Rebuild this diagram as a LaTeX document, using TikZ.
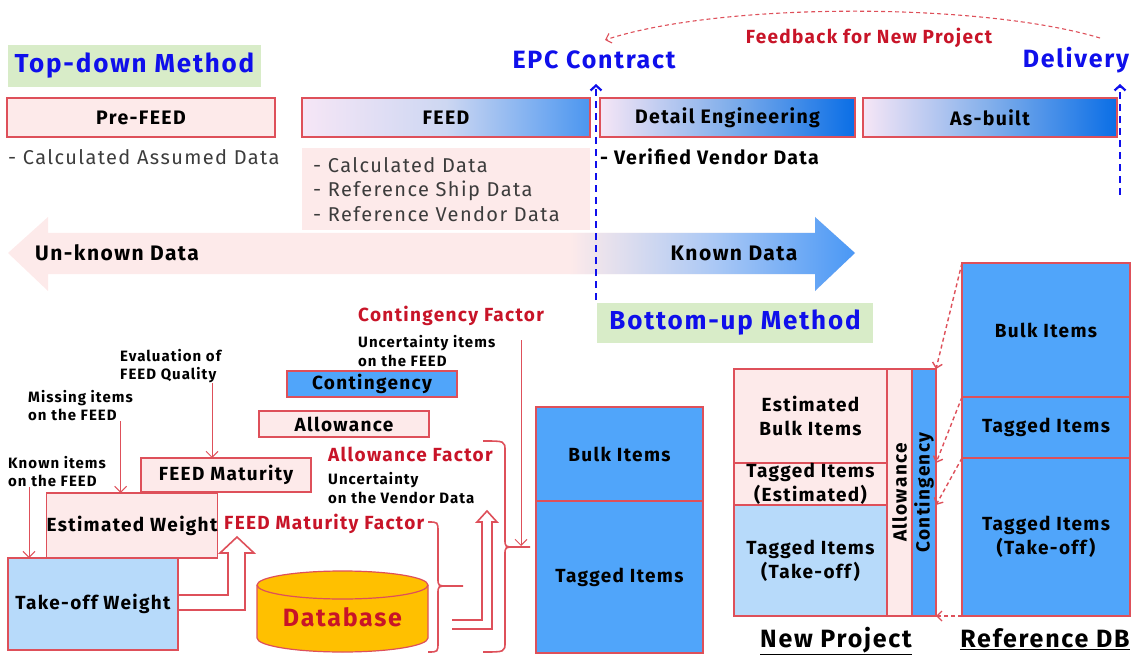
\documentclass[tikz,border=0pt]{standalone}
\usepackage{fontspec}
\setmainfont{Fira Sans}[LetterSpace=7]
\usepackage{graphicx}
\usetikzlibrary{positioning,arrows.meta}
\definecolor{boxred}{RGB}{222,80,90}
\definecolor{pinkfill}{RGB}{253,234,234}
\definecolor{itemblue}{RGB}{80,165,250}
\definecolor{paleblue}{RGB}{183,218,250}
\definecolor{methodgreen}{RGB}{216,236,200}
\definecolor{methodblue}{RGB}{15,15,235}
\definecolor{factorred}{RGB}{200,20,40}
\definecolor{dbgold}{RGB}{255,192,0}
\definecolor{phaselight}{RGB}{246,230,246}
\definecolor{feedmid}{RGB}{205,215,242}
\definecolor{feedblue}{RGB}{75,150,240}
\definecolor{detailmid}{RGB}{130,175,235}
\definecolor{deepblue}{RGB}{10,110,230}
\definecolor{arrowmid}{RGB}{170,200,245}
\definecolor{arrowblue}{RGB}{70,150,245}
\definecolor{notegray}{RGB}{60,60,60}

\begin{document}
\begin{tikzpicture}[x=1pt,y=-1pt,
  box/.style={draw=boxred,line width=1.2pt,fill=pinkfill,minimum width=170pt,inner sep=0pt,outer sep=0pt,align=center,font=\fontsize{19}{24}\selectfont\bfseries},
  bluebox/.style={box,fill=itemblue},
  palebox/.style={box,fill=paleblue},
  phase/.style={draw=boxred,line width=1.2pt,minimum height=39pt,inner sep=0pt,outer sep=0pt,font=\fontsize{19.5}{23}\selectfont\bfseries},
  method/.style={fill=methodgreen,text=methodblue,inner sep=0pt,font=\fontsize{26}{30}\selectfont\bfseries},
  milestone/.style={text=methodblue,inner sep=0pt,font=\fontsize{25}{29}\selectfont\bfseries},
  span/.style={inner sep=0pt,font=\fontsize{21}{25}\selectfont\bfseries},
  factor/.style={text=factorred,inner sep=0pt,anchor=west,font=\fontsize{19}{23}\selectfont\bfseries},
  remark/.style={inner sep=0pt,anchor=west,align=left,font=\fontsize{15}{18.5}\selectfont\bfseries},
  note/.style={text=notegray,inner sep=0pt,anchor=west,font=\fontsize{20}{24.5}\selectfont},
  caption/.style={inner sep=0pt,anchor=base,font=\fontsize{25}{29}\selectfont\bfseries},
  feeds/.style={color=boxred,line width=1pt,-{Straight Barb[length=6pt,width=12pt]}},
  hollow/.style={draw=boxred,line width=1.6pt,fill=white},
  brace/.style={draw=boxred,line width=1.6pt},
  gate/.style={color=methodblue,line width=2.2pt,dash pattern=on 7pt off 5pt,-{Straight Barb[length=5pt,width=11pt]}},
  refer/.style={color=boxred,line width=1.4pt,dash pattern=on 4pt off 3pt,-{Straight Barb[length=5pt,width=10pt]}}]
  \useasboundingbox (0,0) rectangle (1138,655);

  \node[method,minimum width=253pt,minimum height=42pt] (topdown) at (134.5,66) {Top-down Method};
  \node[phase,fill=pinkfill,minimum width=268pt] (prefeed) at (141,117.5) {Pre-FEED};
  \node[phase,left color=phaselight,right color=feedblue,middle color=feedmid,minimum width=288pt] (feed) at (446,117.5) {FEED};
  \node[phase,left color=phaselight,right color=deepblue,middle color=detailmid,minimum width=255pt] (detail) at (727.5,117.5) {Detail Engineering};
  \node[phase,left color=phaselight,right color=deepblue,middle color=detailmid,minimum width=254pt] (asbuilt) at (990,117.5) {As-built};
  \node[note] (prenote) at (8,157) {- Calculated Assumed Data};
  \node[note,fill=pinkfill,anchor=north west,minimum width=288pt,minimum height=82pt,text width=266pt,inner xsep=11pt,align=left] (feednote) at (302,148) {- Calculated Data\\- Reference Ship Data\\- Reference Vendor Data};
  \node[note,text=black,font=\fontsize{19.5}{24.5}\selectfont\bfseries] (vendnote) at (600,157) {- Verified Vendor Data};

  \begin{scope}
    \clip (8,253) -- (48,217) -- (48,233) -- (815,233) -- (815,217) -- (855,253) -- (815,291) -- (815,274) -- (48,274) -- (48,291) -- cycle;
    \fill[pinkfill] (0,200) rectangle (860,300);
    \shade[left color=pinkfill,right color=arrowblue,middle color=arrowmid] (570,200) rectangle (860,300);
  \end{scope}
  \node[span,anchor=west] (unknown) at (35,253) {Un-known Data};
  \node[span] (known) at (734,253) {Known Data};
  \node[method,minimum width=276pt,minimum height=40pt] (bottomup) at (735,323) {Bottom-up Method};

  \node[milestone] (epc) at (594,60) {EPC Contract};
  \node[milestone] (delivery) at (1076,60) {Delivery};
  \coordinate (epcfoot) at (596,300);
  \coordinate (epctip) at (596,84);
  \coordinate (delfoot) at (1120,195);
  \coordinate (deltip) at (1120,84);
  \path[gate]
  (epcfoot) edge (epctip)
  (delfoot) edge (deltip);
  \coordinate (fbfrom) at (1100,38);
  \coordinate (fbto) at (605,40);
  \draw[refer,line width=1.1pt] (fbfrom) .. controls (980,2) and (720,2) .. (fbto);
  \node[factor,anchor=center] (feedback) at (869,38) {Feedback for New Project};

  \node[box,minimum height=65pt] (estweight) at (132,525.5) {Estimated Weight};
  \node[palebox,minimum height=92pt] (takeoff) at (93,604) {Take-off Weight};
  \node[box,minimum height=34pt] (feedmat) at (226,475) {FEED Maturity};
  \node[box,minimum height=26pt] (allow) at (344,424) {Allowance};
  \node[bluebox,minimum height=26pt] (contin) at (372,384) {Contingency};
  \node[remark] (knownlbl) at (8,471.5) {Known items\\on the FEED};
  \node[remark] (missinglbl) at (28,405.5) {Missing items\\on the FEED};
  \node[remark] (evallbl) at (120,366) {Evaluation of\\FEED Quality};
  \node[remark] (uncfeed) at (358,351) {Uncertainty items\\on the FEED};
  \node[remark] (uncvend) at (328,488) {Uncertainty\\on the Vendor Data};
  \node[factor] (contfac) at (358,316) {Contingency Factor};
  \node[factor] (allowfac) at (328,454) {Allowance Factor};
  \node[factor] (matfac) at (224,524) {FEED Maturity Factor};
  \path[feeds]
  ([xshift=21pt]takeoff.north west |- knownlbl.south) edge ([xshift=21pt]takeoff.north west)
  ([xshift=74pt]estweight.north west |- missinglbl.south) edge ([xshift=74pt]estweight.north west)
  ([xshift=71pt]feedmat.north west |- evallbl.south) edge ([xshift=71pt]feedmat.north west);

  \filldraw[hollow] (179,595) -- (228,595) -- (228,553) -- (220,553) -- (237,537) -- (254,553) -- (245,553) -- (245,610) -- (179,610);
  \filldraw[hollow] (452,620) -- (482,620) -- (482,522) -- (477,522) -- (487,511) -- (497,522) -- (492,522) -- (492,629) -- (452,629);
  \draw[brace] (428,522) .. controls (438,522) .. (438,532) -- (438,578) .. controls (438,586) .. (448,586) -- (463,586)
  (448,586) .. controls (438,586) .. (438,594) -- (438,642) .. controls (438,652) .. (428,652);
  \draw[brace] (483,441) .. controls (505,441) .. (505,451) -- (505,539) .. controls (505,547) .. (515,547) -- (530,547)
  (515,547) .. controls (505,547) .. (505,555) -- (505,642) .. controls (505,652) .. (483,652);
  \coordinate (cftop) at (521,340);
  \coordinate (cfend) at (521,546);
  \path[feeds] (cftop) edge (cfend);

  \filldraw[draw=boxred,line width=1.2pt,fill=dbgold] (257,585) -- (257,638) arc[start angle=180,end angle=360,x radius=85.5pt,y radius=14pt] -- (428,585) arc[start angle=0,end angle=180,x radius=85.5pt,y radius=14pt] -- cycle;
  \draw[draw=boxred,line width=1.2pt] (257,585) arc[start angle=180,end angle=360,x radius=85.5pt,y radius=14pt];
  \node[text=factorred,font=\fontsize{25}{29}\selectfont\bfseries] (db) at (342.5,617) {Database};

  \node[bluebox,minimum width=167pt,minimum height=94pt] (bulkmid) at (619.5,454) {Bulk Items};
  \node[bluebox,minimum width=167pt,minimum height=152pt,below=0pt of bulkmid] (tagmid) {Tagged Items};

  \node[box,minimum width=153pt,minimum height=94pt] (estbulk) at (810.5,416) {Estimated\\Bulk Items};
  \node[box,minimum width=153pt,minimum height=42pt,below=0pt of estbulk] (tagest) {Tagged Items\\(Estimated)};
  \node[palebox,minimum width=153pt,minimum height=111pt,below=0pt of tagest] (tagto) {Tagged Items\\(Take-off)};
  \node[box,minimum width=25pt,minimum height=247pt,anchor=north west] (allowcol) at (estbulk.north east) {\rotatebox{90}{Allowance}};
  \node[bluebox,minimum width=24pt,minimum height=247pt,anchor=north west] (contcol) at (allowcol.north east) {\rotatebox{90}{Contingency}};

  \node[bluebox,minimum width=168pt,minimum height=134pt] (bulkref) at (1046,330) {Bulk Items};
  \node[bluebox,minimum width=168pt,minimum height=61pt,below=0pt of bulkref] (tagref) {Tagged Items};
  \node[bluebox,minimum width=168pt,minimum height=158pt,below=0pt of tagref] (takeref) {Tagged Items\\(Take-off)};
  \path[refer]
  (bulkref.north west) edge (contcol.north east)
  (tagref.north west) edge (contcol.east |- estbulk.south)
  (takeref.north west) edge (contcol.east |- tagest.south)
  (takeref.south west) edge (contcol.south east);

  \node[caption] (npcap) at (836,647) {\underline{New Project}};
  \node[caption] (refcap) at (1045,647) {\underline{Reference DB}};
\end{tikzpicture}
\end{document}
